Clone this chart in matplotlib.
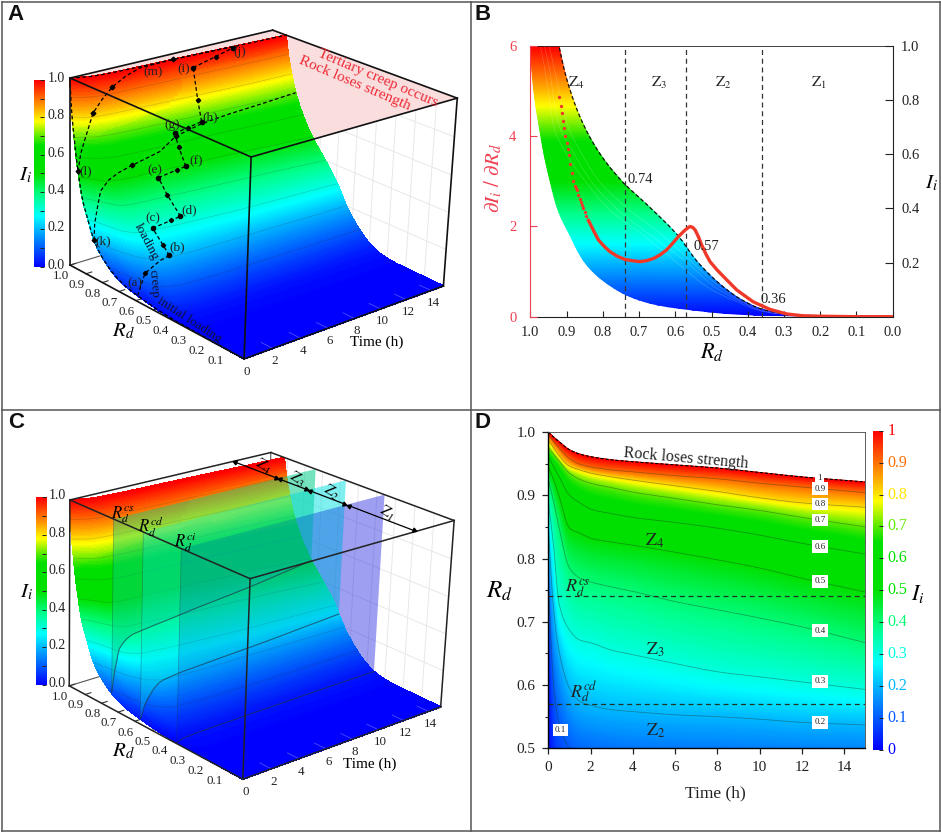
import numpy as np
import matplotlib
matplotlib.use('Agg')
import matplotlib.pyplot as plt
from matplotlib.colors import LinearSegmentedColormap
from matplotlib.lines import Line2D
from matplotlib.ticker import NullFormatter
from mpl_toolkits.mplot3d.art3d import Poly3DCollection

plt.rcParams['font.family'] = ['Liberation Serif', 'DejaVu Serif']
plt.rcParams['mathtext.fontset'] = 'stix'

W, H = 941, 833
times = np.array([0, .25, .5, 1, 1.5, 2, 3, 4, 6, 8, 10, 12, 15])
levels = np.array([0, .005, .02, .05, .1, .2, .3, .4, .5, .6, .7, .8, .9, 1.0])
rd_0 = [0]*13
rd_005 = [.36,.29,.27,.26,.26,.26,.26,.255,.255,.25,.25,.25,.25]
rd_02 = [.52,.40,.37,.36,.355,.355,.35,.35,.345,.345,.34,.34,.34]
rd_05 = [.67,.50,.44,.42,.415,.41,.41,.405,.405,.40,.40,.40,.40]
rd_10 = [.762,.60,.54,.50,.485,.48,.475,.47,.467,.463,.461,.46,.458]
rd_20 = [.849,.72,.655,.595,.574,.568,.561,.558,.553,.55,.546,.541,.537]
rd_30 = [.89,.82,.73,.687,.671,.667,.655,.648,.634,.621,.613,.605,.593]
rd_40 = [.925,.89,.85,.785,.769,.763,.755,.748,.732,.719,.706,.692,.667]
rd_50 = [.945,.925,.90,.848,.84,.832,.826,.821,.81,.798,.785,.769,.747]
rd_60 = [.962,.945,.93,.90,.888,.878,.871,.865,.857,.848,.837,.824,.807]
rd_70 = [.975,.965,.955,.935,.925,.919,.912,.905,.895,.885,.876,.865,.85]
rd_80 = [.987,.975,.963,.946,.94,.935,.929,.924,.915,.906,.896,.888,.881]
rd_90 = [.995,.985,.975,.958,.949,.945,.94,.937,.931,.926,.919,.913,.904]
rd_100 = [1,.992,.985,.972,.965,.961,.956,.953,.948,.943,.936,.929,.921]
RD = np.array([rd_0,rd_005,rd_02,rd_05,rd_10,rd_20,rd_30,rd_40,rd_50,rd_60,rd_70,rd_80,rd_90,rd_100])

thresholds = [0.74, 0.57, 0.36]

deriv_dots_rd = [.92,.916,.913,.909,.906,.903,.90,.897,.894,.890,.886,.882,.878,.875,.872,.868,.864,.861,.858,.854,.85,.845,.84]
deriv_dots_v = [4.86,4.68,4.51,4.34,4.18,4.01,3.84,3.71,3.58,3.38,3.18,3.0,2.9,2.85,2.81,2.7,2.6,2.54,2.48,2.4,2.32,2.23,2.14]
deriv_rd = [.84,.825,.812,.795,.78,.76,.739,.718,.697,.68,.66,.642,.624,.608,.592,.573,.565,.559,.552,.545,.536,.527,.515,.504,.485,.467,.43,.385,.338,.292,.247,.2,.1,0]
deriv_v = [2.14,1.90,1.70,1.55,1.44,1.34,1.27,1.24,1.22,1.24,1.29,1.37,1.48,1.62,1.77,1.92,1.97,2.0,1.98,1.92,1.77,1.59,1.38,1.22,1.04,.89,.59,.33,.16,.06,.02,.01,0,0]

# Loading and creep paths on the surface: time (h), I_i at each vertex
path_ab = ([0,.5,1.33,2],[.031,.138,.194,.206])
path_bc = ([2,2,2],[.206,.244,.306])
path_cd = ([2,3.33,4],[.306,.319,.325])
path_de = ([4,4,4],[.325,.406,.475])
path_ef = ([4,5.33,6],[.475,.488,.494])
path_fg = ([6,6,6],[.494,.581,.644])
path_gh = ([6,7,8],[.644,.656,.669])
path_hi = ([8,8,8],[.669,.775,.938])
path_ij = ([8,9.67,11],[.938,.969,.994])
creep_k = ([0,.1,.33,.6,1,1.7,2.67,4.67,6,8,10,12.5,15],[.206,.29,.375,.45,.506,.53,.55,.581,.63,.66,.675,.69,.706])
creep_l = ([0,.2,.5,1,1.6,2.33,3.3,4.33,6.67,9,11],[.531,.62,.688,.819,.88,.931,.97,.994,1,1,1])

cmap = LinearSegmentedColormap.from_list('ii', [
    (0, (0,0,1)), (.1, (0,.36,1)), (.2, (0,.72,1)), (.27, (0,1,1)), (.38, (0,1,.55)),
    (.5, (0,.88,0)), (.65, (0,.88,0)), (.7, (.35,.92,0)), (.78, (1,1,0)), (.85, (1,.66,0)),
    (.92, (1,.35,0)), (1, (1,0,0))])

fig = plt.figure(figsize=(W/100, H/100), dpi=100)

def fx(x): return x/W
def fy(y): return 1-y/H
def rect(x0, y0, x1, y1): return [fx(x0), fy(y1), (x1-x0)/W, (y1-y0)/H]

def ztext(px, py, zx, zy, s, **kw):
    kw.setdefault('ha', 'center'); kw.setdefault('va', 'center'); kw.setdefault('fontsize', 10)
    fig.text(fx(px+zx/3), fy(py+zy/3), s, **kw)

def pchip(x, y, xq):
    x = np.asarray(x, float); y = np.asarray(y, float); xq = np.asarray(xq, float)
    h = np.diff(x); d = np.diff(y)/h
    m = np.zeros_like(y)
    for i in range(1, len(x)-1):
        if d[i-1]*d[i] > 0:
            w1, w2 = 2*h[i]+h[i-1], h[i]+2*h[i-1]
            m[i] = (w1+w2)/(w1/d[i-1]+w2/d[i])
    m[0], m[-1] = d[0], d[-1]
    idx = np.clip(np.searchsorted(x, xq, side='right')-1, 0, len(x)-2)
    s = (xq-x[idx])/h[idx]
    return ((2*s**3-3*s**2+1)*y[idx]+(s**3-2*s**2+s)*h[idx]*m[idx]
            +(-2*s**3+3*s**2)*y[idx+1]+(s**3-s**2)*h[idx]*m[idx+1])

def rd_at(i_vals, t_vals):
    t_vals = np.atleast_1d(t_vals)
    by_t = np.array([pchip(times, RD[k], t_vals) for k in range(len(levels))])
    return np.array([pchip(levels, by_t[:, j], i_vals) for j in range(len(t_vals))]).T

fine_I = np.unique(np.r_[levels, np.linspace(0, 1, 161)])
fine_T = np.unique(np.r_[times, np.linspace(0, 1.5, 16), np.linspace(0, 15, 46)])
fine_R = rd_at(fine_I, fine_T)
TT, II = np.meshgrid(fine_T, fine_I)
level_R = rd_at(levels, fine_T)

def surf_rd(ts, Is):
    return np.array([rd_at(np.array([i]), np.array([t]))[0, 0] for t, i in zip(ts, Is)])

def camera(corners):
    world = [(1,0,1),(0,0,1),(0,15,1),(1,15,1),(1,0,0),(0,0,0),(0,15,0)]
    A = []
    for (x,y,z),(u,v) in zip(world, corners):
        v = H-v
        X = [x,y,z,1]
        A.append(X+[0,0,0,0]+[-u*c for c in X])
        A.append([0,0,0,0]+X+[-v*c for c in X])
    p = np.linalg.svd(np.array(A, float))[2][-1].reshape(3,4)
    if p[2] @ np.array([0,0,0,1.]) < 0: p = -p
    return p

def use_camera(ax, P):
    def get_proj():
        m = ax.transData.inverted().get_matrix()
        aff = np.array([[m[0,0],m[0,1],0,m[0,2]],[m[1,0],m[1,1],0,m[1,2]],[0,0,1,0],[0,0,0,1.]])
        depth = np.array([.4,.4/15,-.1,1.])*P[2,3]
        return aff @ np.vstack([P[0],P[1],depth,P[2]])
    ax.get_proj = get_proj

def make3d(rc, P):
    ax = fig.add_axes(rc, projection='3d', computed_zorder=False, proj_type='ortho')
    ax.set_xticks([]); ax.set_yticks([]); ax.set_zticks([])
    ax.set_axis_off(); ax.patch.set_visible(False)
    use_camera(ax, P)
    return ax

def box_back(ax):
    for v in [.2,.4,.6,.8]:
        ax.plot([0,1],[15,15],[v,v],color='#e8e8e8',lw=.7,zorder=1)
    for r in np.arange(.1,1,.1):
        ax.plot([r,r],[15,15],[0,1],color='#e8e8e8',lw=.7,zorder=1)
    ax.plot([1,1],[15,15],[0,1],color='#555555',lw=.8,zorder=1)
    ax.plot([1,1],[0,15],[0,0],color='#555555',lw=.8,zorder=1)
    for r in np.arange(.1,1.01,.1):
        ax.plot([r,r],[0,.4],[0,0],color='#333333',lw=.8,zorder=1)

def box_front(ax, col='#111111', lw=1.2):
    E = [((1,0,1),(0,0,1)),((0,0,1),(0,15,1)),((0,15,1),(1,15,1)),((1,15,1),(1,0,1)),
         ((0,0,1),(0,0,0)),((0,15,1),(0,15,0)),((1,0,1),(1,0,0)),
         ((1,0,0),(0,0,0)),((0,0,0),(0,15,0))]
    for a,b in E:
        ax.plot([a[0],b[0]],[a[1],b[1]],[a[2],b[2]],color=col,lw=lw,zorder=20)

def surface(ax):
    P3 = np.stack([fine_R, TT, II], -1)
    verts = np.stack([P3[:-1,:-1], P3[:-1,1:], P3[1:,1:], P3[1:,:-1]], 2).reshape(-1, 4, 3)
    fc = cmap(verts[:, :, 2].mean(1))
    ax.add_collection3d(Poly3DCollection(verts, facecolors=fc, edgecolors=fc, linewidths=.5,
                                         antialiased=False, zorder=5))
    for k,v in enumerate(levels):
        if v >= .1 and v < 1:
            ax.plot(level_R[k], fine_T, np.full(len(fine_T), v), color='#333333', lw=.5, alpha=.22, zorder=6)
    for t in range(2, 15, 2):
        ax.plot([0,.06],[t,t],[0,0],color='white',lw=.6,alpha=.3,zorder=6)

def ticks3d(P):
    def at(x, y, z):
        q = P @ np.array([x, y, z, 1.])
        return q[0]/q[2], H-q[1]/q[2]
    for r in np.arange(.1,1.01,.1):
        u,v = at(r,-.65,-.045)
        fig.text(fx(u),fy(v),f'{r:.1f}',ha='center',va='center',fontsize=9.4,color='#222222')
    for t in range(0,15,2):
        u,v = at(-.015,t,-.06)
        fig.text(fx(u),fy(v),str(t),ha='center',va='center',fontsize=9.4,color='#222222')

def bar_axes(x0,y0,x1,y1):
    a = fig.add_axes(rect(x0,y0,x1,y1))
    a.imshow(np.linspace(1,0,256)[:,None],cmap=cmap,aspect='auto',extent=[0,1,0,1],vmin=0,vmax=1)
    a.set_xticks([]); a.yaxis.tick_right()
    a.set_yticks(np.arange(0,1.01,.1))
    a.yaxis.set_major_formatter(NullFormatter())
    a.tick_params(axis='y',direction='in',length=3,width=.7,color='#222222',labelright=False,labelleft=False)
    for s in a.spines.values(): s.set_visible(False)
    return a

def bar3d(x0,y0,x1,y1,labx):
    bar_axes(x0,y0,x1,y1)
    for v in np.arange(0,1.01,.2):
        fig.text(fx(labx),fy(y1-(y1-y0)*v-1.5),f'{v:.1f}',ha='center',va='center',fontsize=10,color='#222222')

# ---------- A
cam_A = camera([(70,78.3),(251,156.7),(457.3,98.3),(272.7,30),(70,265),(244.3,359),(443.3,286)])
axA = make3d(rect(0,0,470,470), cam_A)
box_back(axA)
axA.add_collection3d(Poly3DCollection([[(0,0,1),(0,15,1),(1,15,1),(1,0,1)]],facecolor='#fadddd',edgecolor='none',zorder=1.5))
surface(axA)
dash = (0,(3,2))
axA.plot(level_R[-1],fine_T,np.ones(len(fine_T)),color='k',lw=.9,ls=dash,zorder=9)
axA.plot(fine_R[:,0],np.zeros(len(fine_I)),fine_I,color='k',lw=.9,ls=dash,zorder=9)
for p in [path_ab,path_bc,path_cd,path_de,path_ef,path_fg,path_gh,path_hi,path_ij,creep_k,creep_l]:
    ts,Is = p
    axA.plot(surf_rd(ts,Is),ts,Is,color='k',lw=.9,ls=dash,zorder=10)
for p in [path_ab,path_bc,path_cd,path_de,path_ef,path_fg,path_gh,path_hi,path_ij]:
    ts,Is = p
    axA.plot(surf_rd(ts[-1:],Is[-1:]),ts[-1:],Is[-1:],ls='none',marker='o',ms=3,color='k',zorder=11)
    axA.plot(surf_rd(ts[1:2],Is[1:2]),ts[1:2],Is[1:2],ls='none',marker='D',ms=2.2,color='k',zorder=11)
for p,ix in [(creep_k,[0,6,8]),(creep_l,[0,3,5,8])]:
    ts = [p[0][i] for i in ix]; Is = [p[1][i] for i in ix]
    axA.plot(surf_rd(ts,Is),ts,Is,ls='none',marker='D',ms=2.4,color='k',zorder=11)
box_front(axA); ticks3d(cam_A)
bar3d(33.7,80,44.3,266.7,56)
for s,zx,zy in [('(a)',405,850),('(b)',532,743),('(c)',457,655),('(d)',568,632),('(e)',465,510),('(f)',587,485),
                ('(g)',517,375),('(h)',632,353),('(i)',550,207),('(j)',718,157),('(k)',310,725),('(l)',258,515),('(m)',460,218)]:
    ztext(0,0,zx,zy,s,fontsize=9.5,color='#222222')
ztext(0,0,1135,235,'Tertiary creep occurs',fontsize=11,color='#ee2a35',rotation=-23)
ztext(0,0,1065,250,'Rock loses strength',fontsize=11,color='#ee2a35',rotation=-23)
ztext(0,0,440,725,'loading',fontsize=9.5,rotation=-62,color='#111133')
ztext(0,0,460,850,'creep',fontsize=9.5,rotation=-85,color='#111133')
ztext(0,0,568,960,'initial loading',fontsize=9.5,rotation=-33,color='#111133')
ztext(0,0,1130,1028,'Time (h)',fontsize=11)
ztext(0,0,370,995,r'$R_d$',fontsize=15)
ztext(0,0,75,525,r'$I_i$',fontsize=15)

# ---------- C
cam_C = camera([(70,500),(250,578.3),(454.3,521),(270.7,452.3),(69.3,686),(242.7,779.3),(440.7,706.7)])
axC = make3d(rect(0,363,470,833), cam_C)
box_back(axC); surface(axC)
for r,c,a_under,a_over in zip(thresholds,['#00cc88','#00e0e0','#0000e0'],[.2,.28,.27],[.42,.3,.14]):
    si = np.array([np.interp(r, fine_R[:,j], fine_I) for j in range(len(fine_T))])
    poly = list(zip([r]*len(fine_T),fine_T,si))+[(r,15,1),(r,0,1)]
    axC.add_collection3d(Poly3DCollection([poly],facecolor=c,alpha=a_under,edgecolor='none',zorder=2))
    axC.add_collection3d(Poly3DCollection([poly],facecolor=c,alpha=a_over,edgecolor='none',zorder=7))
    axC.plot([r]*len(fine_T),fine_T,si,color='#223344',lw=.8,alpha=.65,zorder=8)
    axC.plot([r,r],[0,0],[si[0],1],color='#223344',lw=.5,alpha=.4,zorder=8)
box_front(axC,'#222222',1.1); ticks3d(cam_C)
bar3d(35.7,497.3,46,684.7,57)
z_edges = [1,.74,.57,.36,0]
for a,b in zip(z_edges[:-1],z_edges[1:]):
    d = .012
    axC.plot([a-d,b+d],[12,12],[1,1],color='k',lw=.9,zorder=21)
    axC.plot([a-d],[12],[1],marker=(3,0,69),ms=3.5,color='k',zorder=21)
    axC.plot([b+d],[12],[1],marker=(3,0,-111),ms=3.5,color='k',zorder=21)
for s,zx,zy in [(r'$\mathrm{Z}_4$',790,170),(r'$\mathrm{Z}_3$',890,207),(r'$\mathrm{Z}_2$',995,247),(r'$\mathrm{Z}_1$',1160,310)]:
    ztext(0,410,zx,zy,s,fontsize=11,rotation=-32)
for s,zx,zy in [(r'$R_d^{cs}$',368,315),(r'$R_d^{cd}$',453,352),(r'$R_d^{ci}$',555,397)]:
    ztext(0,410,zx,zy,s,fontsize=12)
ztext(0,410,1108,1062,'Time (h)',fontsize=11)
ztext(0,410,370,1025,r'$R_d$',fontsize=15)
ztext(0,410,80,548,r'$I_i$',fontsize=15)

# ---------- B
axBr = fig.add_axes(rect(530.3,46,892.7,316.7))
axB = axBr.twinx()
axB.yaxis.tick_left()
axB.yaxis.set_label_position('left')
axBr.yaxis.tick_right()
axBr.yaxis.set_label_position('right')
axB.set_zorder(axBr.get_zorder()+1); axB.patch.set_visible(False)
bI = fine_I
bR = rd_at(bI,times[[0,12]])
axBr.pcolormesh(bR,np.tile(bI[:,None],(1,2)),np.tile(bI[:,None],(1,2)),cmap=cmap,vmin=0,vmax=1,shading='gouraud',rasterized=True)
for j in [3,5,8]:
    axBr.plot(rd_at(bI,times[j])[:,0],bI,color='white',lw=.4,alpha=.25)
axBr.plot(bR[:,1],bI,color='#111111',lw=.9,ls=(0,(3,2)))
axBr.set_xlim(1,0); axBr.set_ylim(0,1); axB.set_ylim(0,6)
axBr.set_xticks(np.arange(0,1.01,.1),[f'{v:.1f}' for v in np.arange(0,1.01,.1)],fontsize=10.5)
axBr.set_yticks([.2,.4,.6,.8,1.0],['0.2','0.4','0.6','0.8','1.0'],fontsize=10.5)
axBr.tick_params(axis='x',direction='in',length=4,width=.8,pad=7,colors='#222222')
axBr.tick_params(axis='y',direction='in',length=6,width=.8,pad=6,colors='#222222')
axB.set_yticks([0,2,4,6],['0','2','4','6'],fontsize=10.5)
axB.tick_params(axis='y',direction='in',length=5,width=.8,colors='#f04050',labelcolor='#f04050',pad=10)
for s in ['top','right','bottom']: axBr.spines[s].set_color('#222222')
axBr.spines['top'].set_linewidth(.6)
for s in ['top','right','bottom']: axB.spines[s].set_visible(False)
axBr.spines['left'].set_visible(False)
axB.spines['left'].set_color('#f04050')
for r in thresholds:
    axB.axvline(r,color='#333333',lw=.9,ls=(0,(4,3)))
axB.plot(deriv_dots_rd,deriv_dots_v,ls='none',marker='o',ms=2.4,color='#f03828',mew=0)
axB.plot(deriv_rd,deriv_v,color='#f03828',lw=2.4,solid_capstyle='round')
for s,zx in [(r'$\mathrm{Z}_4$',320),(r'$\mathrm{Z}_3$',568),(r'$\mathrm{Z}_2$',760),(r'$\mathrm{Z}_1$',1047)]:
    ztext(470,0,zx,250,s,fontsize=11,color='#222222')
ztext(470,0,512,538,'0.74',fontsize=10.5,color='#222222')
ztext(470,0,708,740,'0.57',fontsize=10.5,color='#222222')
ztext(470,0,910,898,'0.36',fontsize=10.5,color='#222222')
ztext(470,0,725,1055,r'$R_d$',fontsize=16)
ztext(470,0,70,535,r'$\partial I_i\ /\ \partial R_d$',fontsize=15,color='#f04050',rotation=90)
ztext(470,0,1383,550,r'$I_i$',fontsize=15)

# ---------- D
axD = fig.add_axes(rect(548.3,432,865.3,748.3))
dR = rd_at(fine_I,fine_T)
dT,dL = np.meshgrid(fine_T,fine_I)
axD.pcolormesh(dT,dR,dL,cmap=cmap,vmin=0,vmax=1,shading='gouraud',rasterized=True)
for k,v in enumerate(levels):
    if .1 <= v < 1:
        axD.plot(fine_T,level_R[k],color='#223322',lw=.6,alpha=.4)
axD.plot(fine_T,level_R[-1],color='k',lw=.8,ls=(0,(3,1.5)))
for r in thresholds[:2]:
    axD.axhline(r,color='#223322',lw=.9,ls=(0,(4,3)))
axD.set_xlim(0,15); axD.set_ylim(.5,1)
axD.set_xticks(range(0,15,2),[str(v) for v in range(0,15,2)],fontsize=11)
axD.set_yticks(np.arange(.5,1.01,.1),[f'{v:.1f}' for v in np.arange(.5,1.01,.1)],fontsize=11)
axD.set_yticks(np.arange(.55,1,.1),minor=True)
axD.tick_params(axis='both',which='major',length=4,width=.9,colors='#222222',pad=5)
axD.tick_params(axis='y',which='minor',length=2.5,width=.8,colors='#222222')
for s in ['top','right']:
    axD.spines[s].set_linewidth(.6); axD.spines[s].set_color('#444444')
for s in ['left','bottom']: axD.spines[s].set_linewidth(1.0)
lab_t = 12.85
lab_y = {.9:.9105,.8:.886,.7:.861,.6:.819,.5:.764,.4:.686,.3:.606,.2:.541,1.0:.928}
for v,y in lab_y.items():
    txt = '1' if v==1 else f'{v:.1f}'
    axD.text(lab_t,y,txt,fontsize=6.5,ha='center',va='center',color='#222222',
             bbox=dict(fc='white',ec='none',pad=1.6),zorder=6)
axD.text(.58,.529,'0.1',fontsize=6.5,ha='center',va='center',color='#222222',
         bbox=dict(fc='white',ec='none',pad=1.6),zorder=6)
ztext(470,410,647,145,'Rock loses strength',fontsize=11.5,rotation=-5,color='#222222')
for s,zx,zy in [(r'$\mathrm{Z}_4$',555,392),(r'$\mathrm{Z}_3$',555,718),(r'$\mathrm{Z}_2$',558,963)]:
    ztext(470,410,zx,zy,s,fontsize=13,color='#222222')
ztext(470,410,322,535,r'$R_d^{cs}$',fontsize=13,color='#222222')
ztext(470,410,340,848,r'$R_d^{cd}$',fontsize=13,color='#222222')
ztext(470,410,87,543,r'$R_d$',fontsize=18)
ztext(470,410,737,1150,'Time (h)',fontsize=12.5,color='#222222')
ztext(470,410,1345,553,r'$I_i$',fontsize=16)
bar_axes(872.7,430.7,882.7,750)
for v in np.arange(0,1.01,.1):
    c = cmap(v)
    txt = '0' if v<.01 else '1' if v>.99 else f'{v:.1f}'
    ztext(470,410,1282 if .01<v<.99 else 1265,1020-958*v,txt,fontsize=11.5,color=c)

# ---------- frames
for (x0,y0,x1,y1) in [(1.5,2,1.5,831),(1.5,2,939.5,2),(939.5,2,939.5,831),(1.5,831,939.5,831),(470.5,2,470.5,831),(1.5,410,939.5,410)]:
    fig.add_artist(Line2D([fx(x0),fx(x1)],[fy(y0),fy(y1)],color='#555555',lw=1.1))
for s,x,y in [('A',15,15),('B',483,15),('C',16,423),('D',483,423)]:
    fig.text(fx(x),fy(y),s,fontsize=16,fontweight='bold',family='Liberation Sans',ha='center',va='center',color='#111111')

fig.savefig('out.png',dpi=100)
